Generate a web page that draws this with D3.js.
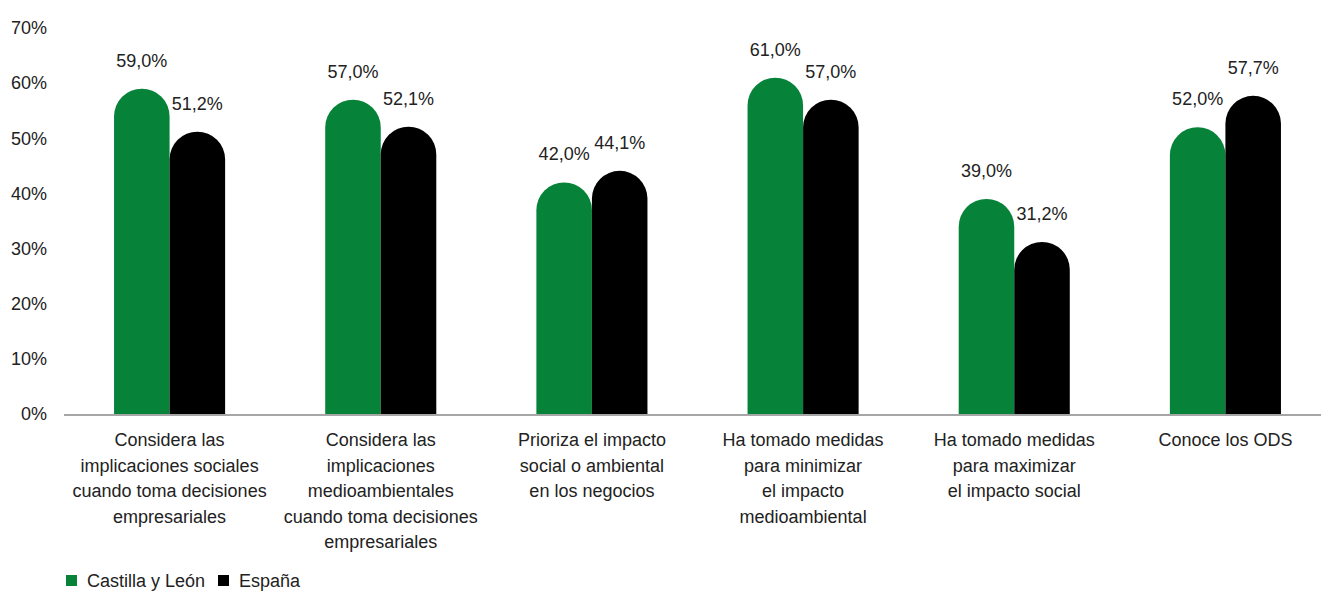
<!DOCTYPE html>
<html><head><meta charset="utf-8">
<script src="https://cdn.jsdelivr.net/npm/d3@7"></script>
<style>
body{margin:0;background:#fff;}
text{font-family:"Liberation Sans",Arial,Helvetica,sans-serif;}
</style></head>
<body><svg id="c" width="1321" height="592"></svg>
<script>
const categories = [
  ["Considera las","implicaciones sociales","cuando toma decisiones","empresariales"],
  ["Considera las","implicaciones","medioambientales","cuando toma decisiones","empresariales"],
  ["Prioriza el impacto","social o ambiental","en los negocios"],
  ["Ha tomado medidas","para minimizar","el impacto","medioambiental"],
  ["Ha tomado medidas","para maximizar","el impacto social"],
  ["Conoce los ODS"]
];
const seriesNames = ["Castilla y León","España"];
const castilla = [59.0, 57.0, 42.0, 61.0, 39.0, 52.0];
const espana   = [51.2, 52.1, 44.1, 57.0, 31.2, 57.7];
const yTicks = [0,10,20,30,40,50,60,70];
const colors = ["#068339","#000000"];

const svg = d3.select("#c");
const x0 = d3.scaleBand().domain(d3.range(categories.length)).range([64,1331]).paddingInner(0).paddingOuter(0);
const x1 = d3.scaleBand().domain([0,1]).range([x0.bandwidth()*0.237, x0.bandwidth()*0.763]);
const y = d3.scaleLinear().domain([0,70]).range([414,28]);
const fmt = v => d3.format(".1f")(v).replace(".",",")+"%";

// y axis labels
svg.append("g").selectAll("text").data(yTicks).join("text")
  .attr("x",47).attr("y",d=>y(d)).attr("dy","0.35em")
  .attr("text-anchor","end").attr("font-size",18).attr("fill","#222")
  .text(d=>d+"%");

const data = categories.map((c,i)=>[castilla[i],espana[i]]);
function barPath(x,w,v){
  const b=y(0), t=y(v), r=w/2;
  const h=b-t;
  if(h<=r) return `M${x},${b}V${b-h}H${x+w}V${b}Z`;
  return `M${x},${b}V${t+r}A${r},${r} 0 0 1 ${x+w},${t+r}V${b}Z`;
}
const g = svg.append("g").selectAll("g").data(data).join("g")
  .attr("transform",(d,i)=>`translate(${x0(i)},0)`);
g.selectAll("path").data(d=>d).join("path")
  .attr("d",(v,j)=>barPath(x1(j),x1.bandwidth(),v))
  .attr("fill",(v,j)=>colors[j]);
g.selectAll("text.lbl").data(d=>d).join("text").attr("class","lbl")
  .attr("x",(v,j)=>x1(j)+x1.bandwidth()/2).attr("y",v=>y(v)-22)
  .attr("text-anchor","middle").attr("font-size",18).attr("fill","#222")
  .text(fmt);

// axis line
svg.append("line").attr("x1",64).attr("x2",1321).attr("y1",y(0)+1).attr("y2",y(0)+1)
  .attr("stroke","#a6a6a6").attr("stroke-width",2);

// category labels
svg.append("g").selectAll("text").data(categories).join("text")
  .attr("text-anchor","middle").attr("font-size",18).attr("fill","#222")
  .attr("transform",(d,i)=>`translate(${x0(i)+x0.bandwidth()/2},446)`)
  .selectAll("tspan").data(d=>d).join("tspan")
  .attr("x",0).attr("y",(d,k)=>k*25.5).text(d=>d);

// legend
const leg = svg.append("g");
const lx=[66,218];
seriesNames.forEach((n,i)=>{
  leg.append("rect").attr("x",lx[i]).attr("y",575).attr("width",11).attr("height",11).attr("fill",colors[i]);
  leg.append("text").attr("x",lx[i]+21).attr("y",587).attr("font-size",18).attr("fill","#222").text(n);
});
</script></body></html>
